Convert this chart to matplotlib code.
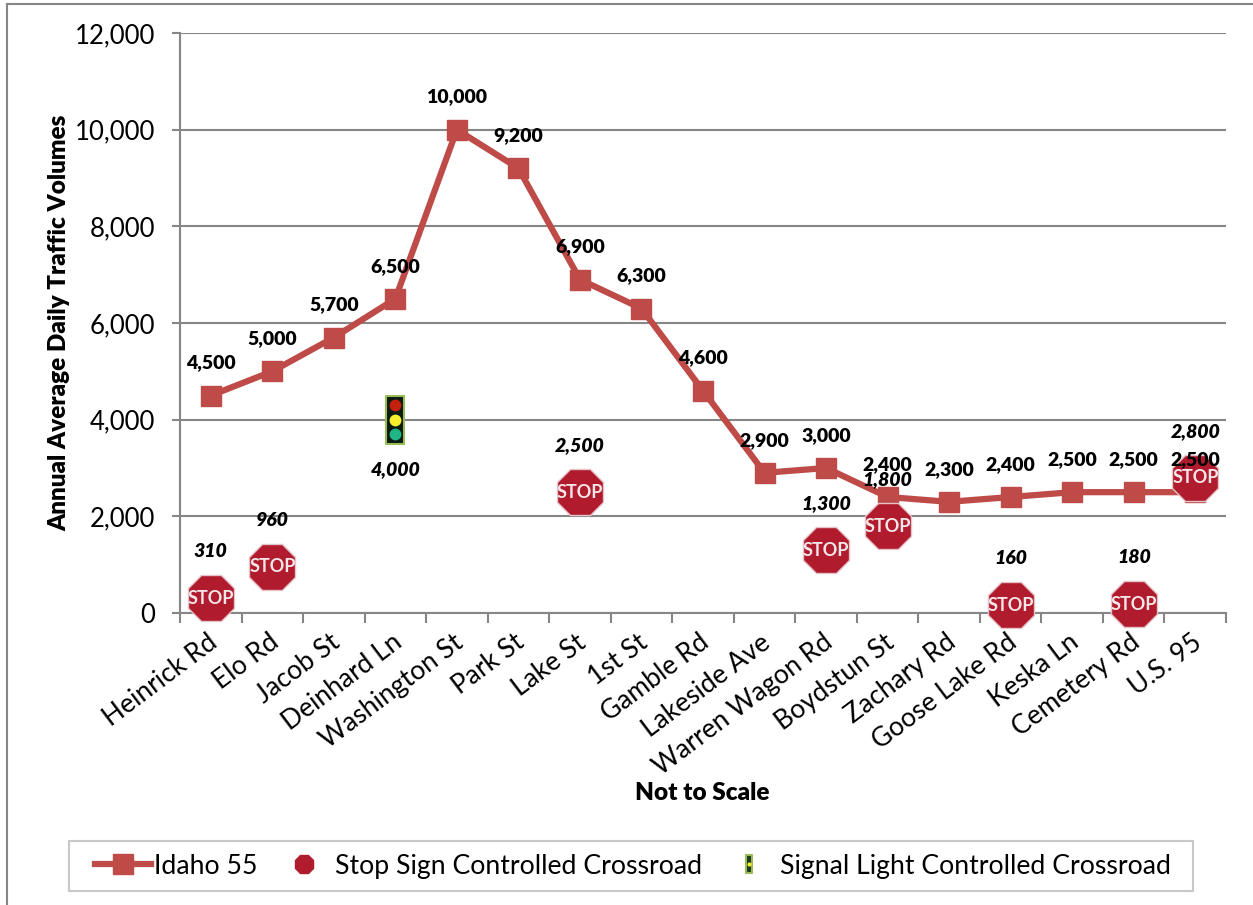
import matplotlib
matplotlib.use('Agg')
import matplotlib.pyplot as plt
from matplotlib.legend_handler import HandlerTuple
from matplotlib.lines import Line2D
from matplotlib.patches import Rectangle
from matplotlib.path import Path
from matplotlib.transforms import ScaledTranslation, offset_copy

plt.rcParams['font.family'] = ['Lato', 'DejaVu Sans']

# Crossroads along the corridor
crossroads = ['Heinrick Rd', 'Elo Rd', 'Jacob St', 'Deinhard Ln', 'Washington St', 'Park St',
              'Lake St', '1st St', 'Gamble Rd', 'Lakeside Ave', 'Warren Wagon Rd', 'Boydstun St',
              'Zachary Rd', 'Goose Lake Rd', 'Keska Ln', 'Cemetery Rd', 'U.S. 95']
idaho55 = [4500, 5000, 5700, 6500, 10000, 9200, 6900, 6300, 4600, 2900, 3000, 2400, 2300, 2400, 2500, 2500, 2500]

# Stop sign crossroads (index into crossroads, volume)
stop_idx = [0, 1, 6, 10, 11, 13, 15, 16]
stop_vals = [310, 960, 2500, 1300, 1800, 160, 180, 2800]

# Signal light crossroad
signal_idx = [3]
signal_vals = [4000]

yticks = [0, 2000, 4000, 6000, 8000, 10000, 12000]

LINE = '#BE4B48'
GREY = '#868686'
STOP = '#B01C2E'

W, H = 1253, 905
fig = plt.figure(figsize=(W / 100, H / 100), dpi=100)
ax = fig.add_axes([180 / W, (H - 613) / H, 1046 / W, 580 / H])


def shifted(dy_pts):
    return offset_copy(ax.transData, fig=fig, x=0, y=dy_pts, units='points')


# outer chart frame, runs off the page
fig.add_artist(Line2D([7 / W, 7 / W], [0, 1 - 4 / H], color=GREY, lw=1.5))
fig.add_artist(Line2D([7 / W, 1], [1 - 4 / H, 1 - 4 / H], color=GREY, lw=1.5))

ax.set_xlim(-0.5, 16.5)
ax.set_ylim(0, 12000)
ax.set_yticks(yticks)
ax.set_yticklabels([f'{v:,}' for v in yticks], fontsize=18.5)
ax.tick_params(axis='y', length=6, width=1.5, color=GREY, pad=12)
ax.yaxis.grid(True, color=GREY, lw=1.5)
ax.set_axisbelow(True)

# tick marks sit between categories, labels on the categories
ax.set_xticks([i - 0.5 for i in range(len(crossroads) + 1)])
ax.set_xticklabels([])
ax.tick_params(axis='x', which='major', length=7, width=1.5, color=GREY)
ax.set_xticks(range(len(crossroads)), minor=True)
ax.set_xticklabels(crossroads, minor=True, rotation=37, ha='right', va='top',
                   rotation_mode='anchor', fontsize=19)
ax.tick_params(axis='x', which='minor', length=0, pad=12)
for lab in ax.get_xticklabels(minor=True):
    lab.set_transform(lab.get_transform() + ScaledTranslation(-4 / 100, 0, fig.dpi_scale_trans))

for s in ['top', 'right']:
    ax.spines[s].set_visible(False)
for s in ['left', 'bottom']:
    ax.spines[s].set_color(GREY)
    ax.spines[s].set_linewidth(1.5)

ax.plot(range(len(idaho55)), idaho55, color=LINE, lw=4.5, marker='s', ms=14, mfc=LINE, mec=LINE,
        zorder=3, clip_on=False)

# stop signs
ax.plot(stop_idx, stop_vals, ls='none', marker='8', ms=36, mfc=STOP, mec='#E6C3C8', mew=1,
        zorder=4, clip_on=False)
for i, v in zip(stop_idx, stop_vals):
    ax.text(i, v, 'STOP', color='#F6E6E8', fontsize=13, fontweight='bold', ha='center', va='center',
            zorder=5)
    ax.annotate(f'{v:,}', (i, v), xytext=(0, 33.5), textcoords='offset points', ha='center', va='center',
                fontsize=14, fontweight=800, fontstyle='italic', zorder=6)

# signal light: housing then the three lamps
housing = Path([(-0.36, -1), (0.36, -1), (0.36, 1), (-0.36, 1), (-0.36, -1)], closed=True)
ax.plot(signal_idx, signal_vals, ls='none', marker=housing, ms=35, mfc='#0C1A12', mec='#9BBB59', mew=1.5,
        zorder=4, clip_on=False)
for dy, c in [(10.5, '#C4200E'), (0, '#F6F02E'), (-10.5, '#1FB584')]:
    ax.plot(signal_idx, signal_vals, ls='none', marker='o', ms=8.5, mfc=c, mec='none',
            transform=shifted(dy), zorder=5)
for i, v in zip(signal_idx, signal_vals):
    ax.annotate(f'{v:,}', (i, v), xytext=(0, -36), textcoords='offset points', ha='center', va='center',
                fontsize=14, fontweight=800, fontstyle='italic', zorder=6)

for i, v in enumerate(idaho55):
    ax.annotate(f'{v:,}', (i, v), xytext=(0, 23.5), textcoords='offset points', ha='center', va='center',
                fontsize=14, fontweight=800, zorder=6)

ax.set_ylabel('Annual Average Daily Traffic Volumes', fontsize=17.5, fontweight=800)
ax.yaxis.set_label_coords((59 - 180) / 1046, (613 - 323) / 580)
ax.yaxis.label.set_va('center')
ax.set_xlabel('Not to Scale', fontsize=17.5, fontweight=800)
ax.xaxis.set_label_coords((702 - 180) / 1046, (613 - 793.5) / 580)
ax.xaxis.label.set_va('center')

# legend box
fig.add_artist(Rectangle((69 / W, 1 - 891 / H), 1124 / W, 50 / H, transform=fig.transFigure,
                         fc='white', ec='#C8C8C8', lw=1.5))
idaho_handle = Line2D([], [], color=LINE, lw=4.5, marker='s', ms=14, mec=LINE)
stop_handle = Line2D([], [], ls='none', marker='8', ms=14, mfc=STOP, mec=STOP)
signal_handle = (Line2D([], [], ls='none', marker=housing, ms=13, mfc='#1A3A1E', mec='#9BBB59', mew=1.5),
                 Line2D([], [], ls='none', marker='o', ms=3, mfc='#F6F02E', mec='none'))
fig.legend([idaho_handle, stop_handle, signal_handle],
           ['Idaho 55', 'Stop Sign Controlled Crossroad', 'Signal Light Controlled Crossroad'],
           handler_map={tuple: HandlerTuple(ndivide=1)},
           loc='center', bbox_to_anchor=(633 / W, 1 - 866 / H), ncol=3, frameon=False, fontsize=19.2,
           handlelength=2.1, handletextpad=0.1, columnspacing=0.72)

fig.savefig('out.png', dpi=100)
